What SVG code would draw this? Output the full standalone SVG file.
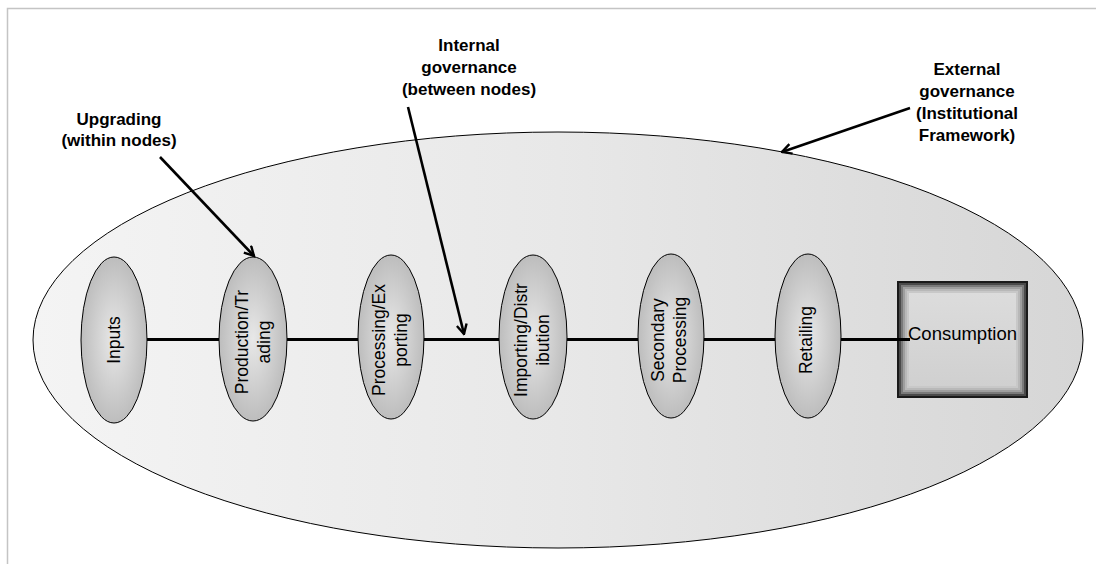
<svg xmlns="http://www.w3.org/2000/svg" width="1096" height="564" viewBox="0 0 1096 564">
  <defs>
    <linearGradient id="outerFill" x1="0" y1="0" x2="1" y2="0">
      <stop offset="0" stop-color="#f4f4f4"/>
      <stop offset="0.5" stop-color="#e8e8e8"/>
      <stop offset="1" stop-color="#d6d6d6"/>
    </linearGradient>
    <radialGradient id="nodeFill" cx="0.5" cy="0.5" r="0.5">
      <stop offset="0" stop-color="#e8e8e8"/>
      <stop offset="1" stop-color="#bdbdbd"/>
    </radialGradient>
    <linearGradient id="boxFace" x1="0" y1="0" x2="0" y2="1">
      <stop offset="0" stop-color="#dcdcdc"/>
      <stop offset="1" stop-color="#d0d0d0"/>
    </linearGradient>
    <marker id="arrowOpen" viewBox="0 0 12 12" refX="10.5" refY="6" markerWidth="12" markerHeight="12" markerUnits="userSpaceOnUse" orient="auto">
      <path d="M1,1 L10.5,6 L1,11" fill="none" stroke="#000" stroke-width="2.4" stroke-linejoin="miter"/>
    </marker>
  </defs>
  <style>
    .frame { fill: none; stroke: #c4c4c4; stroke-width: 1.5; }
    .node { fill: url(#nodeFill); stroke: #000; stroke-width: 1; }
    .lbl { font-family: "Liberation Sans", Arial, sans-serif; font-size: 17.5px; fill: #000; text-anchor: middle; }
    .note { font-family: "Liberation Sans", Arial, sans-serif; font-size: 17px; font-weight: bold; fill: #000; text-anchor: middle; }
    .link { stroke: #000; stroke-width: 3; fill: none; }
    .pointer { stroke: #000; stroke-width: 2.6; fill: none; marker-end: url(#arrowOpen); }
  </style>

  <rect width="1096" height="564" fill="#ffffff"/>
  <path class="frame" d="M7.5,564 L7.5,8.5 L1096,8.5"/>

  <!-- institutional framework boundary -->
  <g id="framework">
    <ellipse cx="558" cy="340" rx="525" ry="208" fill="url(#outerFill)" stroke="#000" stroke-width="1"/>
  </g>

  <!-- chain nodes -->
  <g id="node-inputs">
    <ellipse class="node" cx="114" cy="340" rx="33" ry="83"/>
    <text class="lbl" transform="translate(114,340) rotate(-90)" x="0" y="6">Inputs</text>
  </g>
  <g id="node-production">
    <ellipse class="node" cx="253" cy="339" rx="34" ry="82"/>
    <text class="lbl" transform="translate(253,342) rotate(-90)"><tspan x="0" y="-5">Production/Tr</tspan><tspan x="0" y="17">ading</tspan></text>
  </g>
  <g id="node-processing">
    <ellipse class="node" cx="391" cy="337" rx="33" ry="82"/>
    <text class="lbl" transform="translate(390,340) rotate(-90)"><tspan x="0" y="-5">Processing/Ex</tspan><tspan x="0" y="17">porting</tspan></text>
  </g>
  <g id="node-importing">
    <ellipse class="node" cx="533" cy="337" rx="34" ry="82"/>
    <text class="lbl" transform="translate(532,340) rotate(-90)"><tspan x="0" y="-5">Importing/Distr</tspan><tspan x="0" y="17">ibution</tspan></text>
  </g>
  <g id="node-secondary">
    <ellipse class="node" cx="671" cy="336" rx="33" ry="82"/>
    <text class="lbl" transform="translate(669,340) rotate(-90)"><tspan x="0" y="-5">Secondary</tspan><tspan x="0" y="17">Processing</tspan></text>
  </g>
  <g id="node-retailing">
    <ellipse class="node" cx="808" cy="336" rx="33" ry="82"/>
    <text class="lbl" transform="translate(806,340) rotate(-90)" x="0" y="6">Retailing</text>
  </g>
  <g id="node-consumption">
    <!-- bevelled box built from nested frames -->
    <rect x="897" y="281" width="131" height="117" fill="#1a1a1a"/>
    <rect x="899" y="283" width="127" height="113" fill="#4a4a4a"/>
    <rect x="901" y="285" width="123" height="109" fill="#7a7a7a"/>
    <rect x="903" y="287" width="119" height="105" fill="#9e9e9e"/>
    <rect x="905" y="289" width="115" height="101" fill="#b8b8b8"/>
    <rect x="907" y="291" width="111" height="97" fill="#c8c8c8"/>
    <rect x="909" y="293" width="107" height="93" fill="url(#boxFace)"/>
    <text class="lbl" x="962.5" y="340" style="font-size:18.5px">Consumption</text>
  </g>

  <!-- links along the chain and annotation pointers -->
  <g id="connectors">
    <line class="link" x1="147" y1="339.5" x2="219" y2="339.5"/>
    <line class="link" x1="287" y1="339.5" x2="358" y2="339.5"/>
    <line class="link" x1="424" y1="339.5" x2="499" y2="339.5"/>
    <line class="link" x1="567" y1="339.5" x2="638" y2="339.5"/>
    <line class="link" x1="704" y1="339.5" x2="775" y2="339.5"/>
    <line class="link" x1="841" y1="339.5" x2="910" y2="339.5"/>
    <line class="pointer" x1="160" y1="157" x2="254" y2="256"/>
    <line class="pointer" x1="408" y1="107" x2="464" y2="334"/>
    <line class="pointer" x1="910" y1="108" x2="782" y2="152"/>
  </g>

  <!-- annotations -->
  <g id="note-upgrading">
    <text class="note"><tspan x="119" y="125">Upgrading</tspan><tspan x="119" y="146">(within nodes)</tspan></text>
  </g>
  <g id="note-internal">
    <text class="note"><tspan x="469" y="51">Internal</tspan><tspan x="469" y="73">governance</tspan><tspan x="469" y="95">(between nodes)</tspan></text>
  </g>
  <g id="note-external">
    <text class="note"><tspan x="967" y="75">External</tspan><tspan x="967" y="97">governance</tspan><tspan x="967" y="119">(Institutional</tspan><tspan x="967" y="141">Framework)</tspan></text>
  </g>
</svg>
